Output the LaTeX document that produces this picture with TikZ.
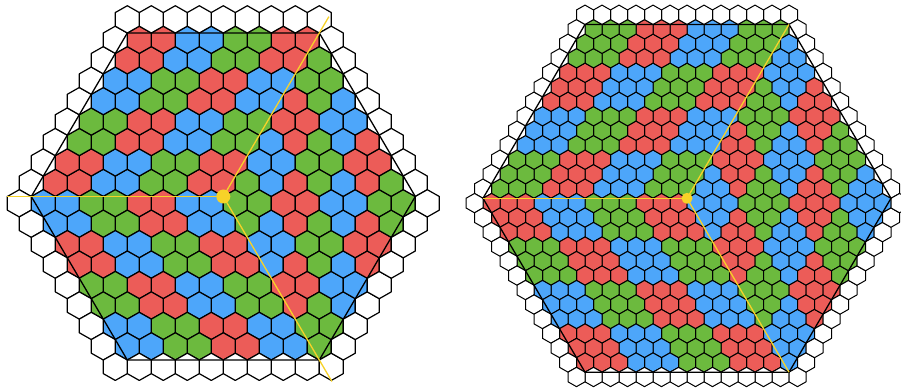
\documentclass[tikz,border=0pt]{standalone}
\usepackage{xcolor}
\definecolor{hexred}{RGB}{236,92,88}
\definecolor{hexblue}{RGB}{77,166,250}
\definecolor{hexgreen}{RGB}{108,186,62}
\definecolor{hexyellow}{RGB}{247,210,40}
\colorlet{hexc0}{hexred}
\colorlet{hexc1}{hexblue}
\colorlet{hexc2}{hexgreen}
\usepackage{tikz}

\begin{document}
\begin{tikzpicture}[
  x=1pt,y=1pt,
  cell/.style={draw=black,line width=1.2pt,line join=round},
  rim/.style={draw=black,line width=1.3pt},
  ray/.style={draw=hexyellow,line width=1.3pt},
  hub/.style={circle,fill=hexyellow,inner sep=0pt},
]
  \useasboundingbox (0,0) rectangle (901,388);
  \clip (0,0) rectangle (901,388);

  % Left panel: three rhombi of 2x2 blocks
  \begin{scope}[shift={(223.3,191.5)},x=24pt,y=23.6pt]
    \foreach \k in {0,1,2}
    \foreach \i in {0,...,8}
    \foreach \j in {0,...,8} {
      \pgfmathsetmacro\cx{(\i+1/3)*cos(180+120*\k)+(\j+2/3)*cos(60+120*\k)}
      \pgfmathsetmacro\cy{(\i+1/3)*sin(180+120*\k)+(\j+2/3)*sin(60+120*\k)}
      \pgfmathtruncatemacro\c{mod(30+\k-floor(\i/2)-floor(\j/2),3)}
      \pgfmathtruncatemacro\edge{(\i==8)||(\j==8)}
      \ifnum\edge=1 \def\fc{white}\else \def\fc{hexc\c}\fi
      \draw[cell,fill=\fc] (\cx,\cy) +(30:0.5774) -- +(90:0.5774) -- +(150:0.5774)
        -- +(210:0.5774) -- +(270:0.5774) -- +(330:0.5774) -- cycle;
    }
    \draw[rim] (0:8) -- (60:8) -- (120:8) -- (180:8) -- (240:8) -- (300:8) -- cycle;

    \coordinate (lc) at (0,0);
    \coordinate (lwest) at (180:9);
    \coordinate (lnorth) at (60:8.8);
    \coordinate (lsouth) at (300:9.05);
    \draw[ray] (lc) -- (lwest);
    \draw[ray] (lc) -- (lnorth);
    \draw[ray] (lc) -- (lsouth);
    \node[hub,minimum size=14pt] (lhub) at (lc) {};
  \end{scope}

  % Right panel: three rhombi of 3x3 blocks
  \begin{scope}[shift={(687,189.7)},x=17pt,y=16.73pt]
    \foreach \k in {0,1,2}
    \foreach \i in {0,...,12}
    \foreach \j in {0,...,12} {
      \pgfmathsetmacro\cx{(\i+1/3)*cos(180+120*\k)+(\j+2/3)*cos(60+120*\k)}
      \pgfmathsetmacro\cy{(\i+1/3)*sin(180+120*\k)+(\j+2/3)*sin(60+120*\k)}
      \pgfmathtruncatemacro\c{mod(32+\k-floor(\i/3)-floor(\j/3),3)}
      \pgfmathtruncatemacro\edge{(\i==12)||(\j==12)}
      \ifnum\edge=1 \def\fc{white}\else \def\fc{hexc\c}\fi
      \draw[cell,line width=1pt,fill=\fc] (\cx,\cy) +(30:0.5774) -- +(90:0.5774) -- +(150:0.5774)
        -- +(210:0.5774) -- +(270:0.5774) -- +(330:0.5774) -- cycle;
    }
    \draw[rim] (0:12) -- (60:12) -- (120:12) -- (180:12) -- (240:12) -- (300:12) -- cycle;

    \coordinate (rc) at (0,0);
    \coordinate (rwest) at (180:12);
    \coordinate (rnorth) at (60:12);
    \coordinate (rsouth) at (300:12);
    \draw[ray] (rc) -- (rwest);
    \draw[ray] (rc) -- (rnorth);
    \draw[ray] (rc) -- (rsouth);
    \node[hub,minimum size=11pt] (rhub) at (rc) {};
  \end{scope}
\end{tikzpicture}
\end{document}
